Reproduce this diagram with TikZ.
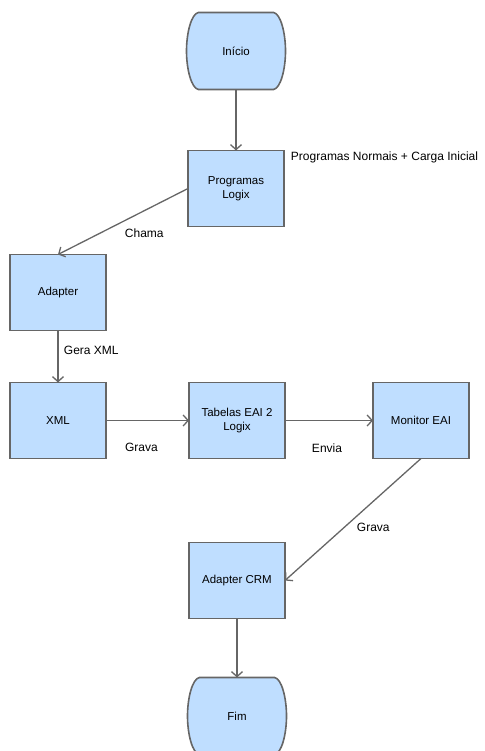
\documentclass[tikz,border=0pt]{standalone}
\usepackage{fontspec}
\setmainfont{Liberation Sans}
\usetikzlibrary{positioning,backgrounds,arrows.meta}
\definecolor{boxfill}{RGB}{191,222,255}
\definecolor{boxline}{RGB}{102,102,102}
\tikzset{
  stepbox/.style={rectangle, draw=boxline, fill=boxfill, line width=1.6pt, outer sep=0pt,
    minimum width=96pt, minimum height=76pt, align=center, font=\fontsize{11.5}{13.5}\selectfont},
  terminal/.style={rectangle, outer sep=0pt, minimum width=99pt, minimum height=77pt,
    font=\fontsize{11.5}{13.5}\selectfont},
  termline/.style={draw=boxline, fill=boxfill, line width=1.6pt},
  lbl/.style={font=\fontsize{12}{14}\selectfont}
}
\begin{document}
\begin{tikzpicture}[x=1pt,y=1pt,>={Straight Barb[length=5pt,width=11pt]}]
\useasboundingbox (0,0) rectangle (484,-751);
\node (ini) [terminal] at (236,-51) {Início};
\node (prog) [stepbox, below=61pt of ini] {Programas\\Logix};
\node (adap) [stepbox, below left=28pt and 82pt of prog] {Adapter};
\node (xml) [stepbox, below=52pt of adap] {XML};
\node (tab) [stepbox, right=83pt of xml] {Tabelas EAI 2\\Logix};
\node (mon) [stepbox, right=88pt of tab] {Monitor EAI};
\node (crm) [stepbox, below=84pt of tab] {Adapter CRM};
\node (fim) [terminal, below=59pt of crm] {Fim};
% barrel outlines of the two terminals
\begin{scope}[on background layer]
\foreach \t in {ini,fim}
  \draw[termline] ([xshift=12pt]\t.north west) -- ([xshift=-12pt]\t.north east)
    .. controls ([xshift=-5pt,yshift=-1pt]\t.north east) and ([yshift=-20pt]\t.north east) .. (\t.east)
    .. controls ([yshift=20pt]\t.south east) and ([xshift=-5pt,yshift=1pt]\t.south east) .. ([xshift=-12pt]\t.south east)
    -- ([xshift=12pt]\t.south west)
    .. controls ([xshift=5pt,yshift=1pt]\t.south west) and ([yshift=20pt]\t.south west) .. (\t.west)
    .. controls ([yshift=-20pt]\t.north west) and ([xshift=5pt,yshift=-1pt]\t.north west) .. cycle;
\end{scope}
\draw[->, boxline, line width=1.3pt](ini.south)--(prog.north)
  node[lbl, pos=1, anchor=north west, xshift=51pt, yshift=3pt, text=black] {Programas Normais + Carga Inicial};
\draw[->, boxline, line width=1.3pt](prog.west)--(adap.north)
  node[lbl, midway, anchor=north west, xshift=-2pt, yshift=-3pt, text=black] {Chama};
\draw[->, boxline, line width=1.3pt](adap.south)--(xml.north)
  node[lbl, midway, right, yshift=6pt, xshift=2pt, text=black] {Gera XML};
\draw[->, boxline, line width=1.3pt](xml.east)--(tab.west)
  node[lbl, midway, below=19pt, xshift=-6pt, text=black] {Grava};
\draw[->, boxline, line width=1.3pt](tab.east)--(mon.west)
  node[lbl, midway, below=19pt, xshift=-2pt, text=black] {Envia};
\draw[->, boxline, line width=1.3pt](mon.south)--(crm.east)
  node[lbl, midway, below right, text=black] {Grava};
\draw[->, boxline, line width=1.3pt](crm.south)--(fim.north);
\end{tikzpicture}
\end{document}
